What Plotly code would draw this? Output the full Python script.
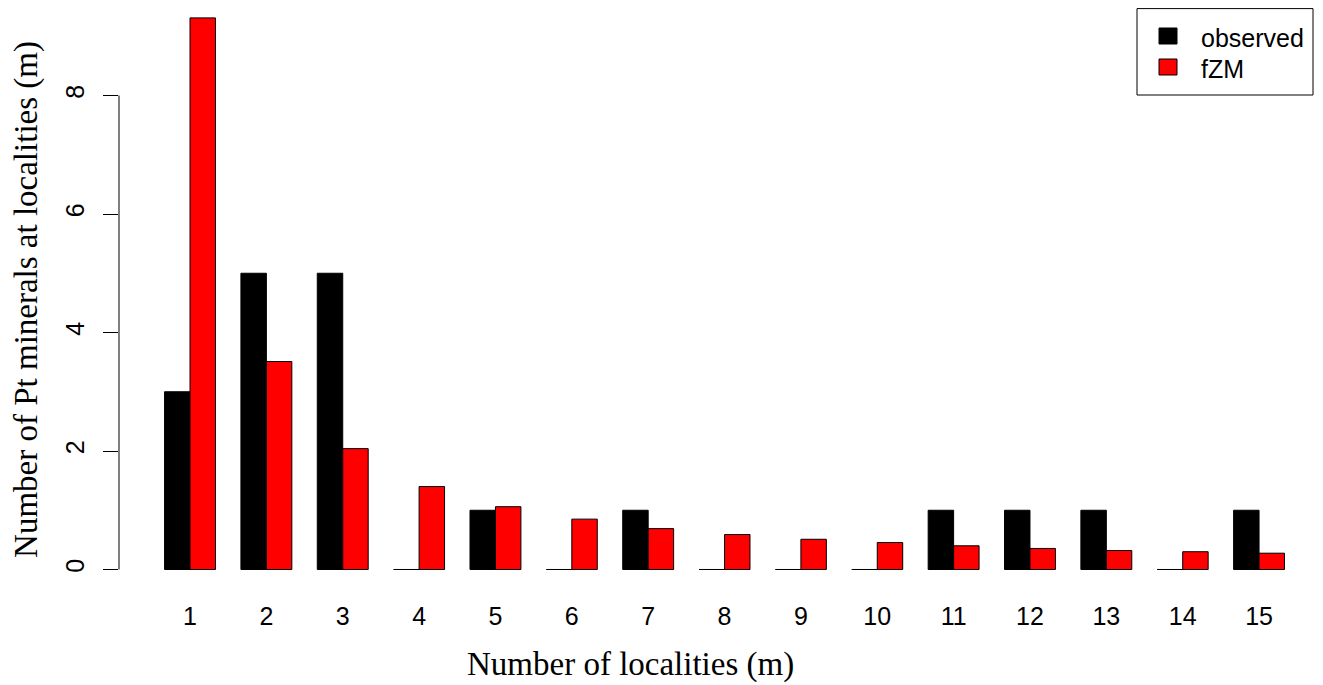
import plotly.graph_objects as go

categories = [str(i) for i in range(1, 16)]
observed = [3, 5, 5, 0, 1, 0, 1, 0, 0, 0, 1, 1, 1, 0, 1]
fzm = [9.31, 3.51, 2.04, 1.40, 1.06, 0.85, 0.69, 0.59, 0.51, 0.455, 0.40, 0.355, 0.32, 0.30, 0.275]
y_ticks = [0, 2, 4, 6, 8]
series_names = ["observed", "fZM"]
series_colors = ["black", "#ff0000"]

# page has an 8px body margin; figure coords = page coords - 8
OFF = 8
W, H = 1323 - OFF, 685 - OFF
ML, MR, MT, MB = 111, 25, 0, 94
PW, PH = W - ML - MR, H - MT - MB


def px_x(p):
    return (p - OFF - ML) / PW


def px_y(p):
    return 1 - (p - OFF - MT) / PH


fig = go.Figure()
for name, vals, col in zip(series_names, [observed, fzm], series_colors):
    fig.add_trace(go.Bar(x=categories, y=vals, name=name, showlegend=False,
                         marker=dict(color=col, line=dict(color="black", width=1))))

fig.update_layout(
    width=W, height=H,
    margin=dict(l=ML, r=MR, t=MT, b=MB, autoexpand=False),
    paper_bgcolor="white", plot_bgcolor="white",
    barmode="group", bargap=1/3, bargroupgap=0,
    font=dict(family="Liberation Sans", size=25, color="black"),
    xaxis=dict(range=[-0.93, 14.51], showline=False, ticks="", showgrid=False,
               zeroline=False, ticklabelstandoff=8, automargin=False),
    yaxis=dict(range=[-0.363, 9.477], showline=False, showgrid=False, zeroline=False,
               tickvals=y_ticks, ticks="outside", ticklen=15, tickcolor="black",
               tickwidth=1, tickangle=-90, ticklabelstandoff=9, automargin=False,
               title=dict(text="Number of Pt minerals at localities (m)", standoff=17,
                          font=dict(family="Liberation Serif", size=33))),
)
# x axis title (positioned as in the reference)
fig.add_annotation(text="Number of localities (m)", xref="paper", yref="paper",
                   x=px_x(630), y=px_y(664), xanchor="center", yanchor="middle",
                   showarrow=False, font=dict(family="Liberation Serif", size=33, color="black"))

# y axis line spanning only the tick range (R style)
fig.add_shape(type="line", xref="paper", yref="y", x0=0, x1=0, y0=y_ticks[0], y1=y_ticks[-1],
              line=dict(color="black", width=1))

# legend box (R style)
fig.add_shape(type="rect", xref="paper", yref="paper",
              x0=px_x(1137), x1=px_x(1313), y0=px_y(95), y1=px_y(8.6),
              line=dict(color="black", width=1), fillcolor="white")
rows = [36, 67]
for name, col, cy in zip(series_names, series_colors, rows):
    fig.add_shape(type="rect", xref="paper", yref="paper",
                  x0=px_x(1159), x1=px_x(1177), y0=px_y(cy + 8), y1=px_y(cy - 8),
                  line=dict(color="black", width=1), fillcolor=col)
    fig.add_annotation(text=name, xref="paper", yref="paper", x=px_x(1199), y=px_y(cy + 2),
                       xanchor="left", yanchor="middle", showarrow=False,
                       font=dict(family="Liberation Sans", size=25, color="black"))

fig.write_html("out.html")
